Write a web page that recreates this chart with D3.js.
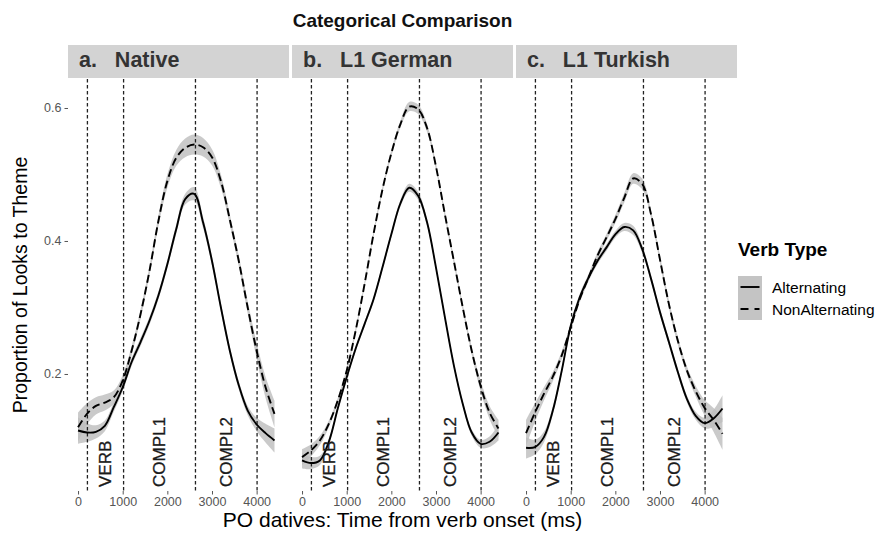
<!DOCTYPE html>
<html>
<head>
<meta charset="utf-8">
<script src="https://cdn.jsdelivr.net/npm/d3@7"></script>
<style>
  body { margin: 0; background: #fff; }
  svg { display: block; font-family: "Liberation Sans", Arial, sans-serif; }
</style>
</head>
<body>
<svg id="chart" width="882" height="534"></svg>
<script>
// time grid (ms from verb onset)
const TIME_MS = [0, 200, 400, 600, 800, 1000, 1200, 1400, 1600, 1800, 2000, 2200,
  2400, 2600, 2800, 3000, 3200, 3400, 3600, 3800, 4000, 4200, 4400];

const PANEL_LABELS = ["a.   Native", "b.   L1 German", "c.   L1 Turkish"];
const SERIES_NAMES = ["Alternating", "NonAlternating"];

// proportion of looks to theme
const nativeAlt = [0.115, 0.112, 0.113, 0.122, 0.150, 0.180, 0.218, 0.248, 0.280, 0.318, 0.365, 0.418,
  0.463, 0.471, 0.428, 0.370, 0.300, 0.235, 0.183, 0.145, 0.124, 0.111, 0.100];
const nativeNonAlt = [0.120, 0.140, 0.152, 0.157, 0.165, 0.190, 0.235, 0.290, 0.355, 0.430, 0.490, 0.525,
  0.540, 0.545, 0.541, 0.526, 0.490, 0.432, 0.370, 0.300, 0.235, 0.180, 0.140];
const germanAlt = [0.070, 0.066, 0.070, 0.098, 0.148, 0.195, 0.238, 0.275, 0.312, 0.360, 0.410, 0.456,
  0.480, 0.468, 0.428, 0.360, 0.285, 0.213, 0.155, 0.112, 0.095, 0.098, 0.112];
const germanNonAlt = [0.075, 0.085, 0.100, 0.125, 0.160, 0.205, 0.265, 0.335, 0.410, 0.477, 0.532, 0.575,
  0.602, 0.598, 0.570, 0.512, 0.440, 0.370, 0.300, 0.235, 0.182, 0.142, 0.118];
const turkishAlt = [0.089, 0.090, 0.105, 0.145, 0.205, 0.272, 0.315, 0.345, 0.370, 0.390, 0.410, 0.421,
  0.416, 0.388, 0.343, 0.293, 0.248, 0.203, 0.163, 0.137, 0.126, 0.133, 0.148];
const turkishNonAlt = [0.111, 0.142, 0.170, 0.196, 0.228, 0.270, 0.312, 0.345, 0.378, 0.405, 0.433, 0.465,
  0.494, 0.486, 0.440, 0.372, 0.305, 0.250, 0.206, 0.174, 0.149, 0.131, 0.110];

// half-widths of the grey confidence bands
const nativeAltSe = [0.020, 0.014, 0.010, 0.008, 0.007, 0.006, 0.006, 0.006, 0.006, 0.006, 0.006, 0.007,
  0.008, 0.010, 0.008, 0.007, 0.006, 0.006, 0.006, 0.007, 0.010, 0.014, 0.018];
const nativeNonAltSe = [0.022, 0.016, 0.013, 0.012, 0.010, 0.008, 0.007, 0.007, 0.007, 0.008, 0.010, 0.012,
  0.014, 0.015, 0.014, 0.012, 0.010, 0.008, 0.008, 0.009, 0.012, 0.016, 0.020];
const germanAltSe = [0.012, 0.009, 0.007, 0.005, 0.004, 0.004, 0.004, 0.004, 0.004, 0.004, 0.004, 0.005,
  0.006, 0.006, 0.005, 0.004, 0.004, 0.004, 0.004, 0.005, 0.006, 0.008, 0.012];
const germanNonAltSe = [0.012, 0.009, 0.007, 0.005, 0.004, 0.004, 0.004, 0.004, 0.004, 0.004, 0.005, 0.005,
  0.007, 0.007, 0.006, 0.005, 0.005, 0.005, 0.005, 0.006, 0.008, 0.010, 0.013];
const turkishAltSe = [0.016, 0.011, 0.008, 0.006, 0.005, 0.005, 0.005, 0.005, 0.005, 0.005, 0.005, 0.006,
  0.007, 0.006, 0.005, 0.005, 0.005, 0.005, 0.005, 0.006, 0.008, 0.013, 0.020];
const turkishNonAltSe = [0.020, 0.014, 0.010, 0.007, 0.006, 0.005, 0.005, 0.005, 0.005, 0.005, 0.006, 0.007,
  0.008, 0.008, 0.006, 0.006, 0.006, 0.006, 0.006, 0.008, 0.012, 0.018, 0.024];

// region boundaries (ms) and the labels between them
const REGION_BOUNDS = [210, 1020, 2630, 4010];
const REGION_LABELS = ["VERB", "COMPL1", "COMPL2"];

const X_TICKS = [0, 1000, 2000, 3000, 4000];
const Y_TICKS = [0.2, 0.4, 0.6];

const PANEL_DATA = [
  [nativeAlt, nativeAltSe, nativeNonAlt, nativeNonAltSe],
  [germanAlt, germanAltSe, germanNonAlt, germanNonAltSe],
  [turkishAlt, turkishAltSe, turkishNonAlt, turkishNonAltSe],
];

const svg = d3.select("#chart");

const panelLeft = 68;
const panelW = 221;
const panelGap = 3;
const stripTop = 45;
const stripH = 33;
const panelTop = 79;
const panelBottom = 491;
const plotMid = panelLeft + (3 * panelW + 2 * panelGap) / 2;

const x = d3.scaleLinear().domain([-225, 4725]).range([0, panelW]);
const y = d3.scaleLinear().domain([0.024, 0.6436]).range([panelBottom, panelTop]);

const line = d3.line()
  .x((d) => x(d.t))
  .y((d) => y(d.v))
  .curve(d3.curveCatmullRom);

const band = d3.area()
  .x((d) => x(d.t))
  .y0((d) => y(d.v - d.se))
  .y1((d) => y(d.v + d.se))
  .curve(d3.curveCatmullRom);

const toPoints = (vals, se) => TIME_MS.map((t, i) => ({ t, v: vals[i], se: se[i] }));

// title
svg.append("text")
  .attr("x", plotMid)
  .attr("y", 27)
  .attr("text-anchor", "middle")
  .attr("font-weight", "bold")
  .attr("font-size", 19)
  .attr("fill", "#111")
  .text("Categorical Comparison");

PANEL_LABELS.forEach((label, p) => {
  const ox = panelLeft + p * (panelW + panelGap);
  const g = svg.append("g").attr("transform", `translate(${ox},0)`);
  const [alt, altSe, non, nonSe] = PANEL_DATA[p];

  // strip
  g.append("rect")
    .attr("x", 0).attr("y", stripTop)
    .attr("width", panelW).attr("height", stripH)
    .attr("fill", "#d3d3d3");
  g.append("text")
    .attr("x", 11).attr("y", stripTop + 22)
    .attr("font-weight", "bold")
    .attr("font-size", 21.5)
    .attr("fill", "#333")
    .style("white-space", "pre")
    .text(label);

  // confidence bands
  g.append("path").attr("d", band(toPoints(alt, altSe)))
    .attr("fill", "#bdbdbd").attr("opacity", 0.8);
  g.append("path").attr("d", band(toPoints(non, nonSe)))
    .attr("fill", "#bdbdbd").attr("opacity", 0.8);

  // region boundaries
  g.selectAll(".bound")
    .data(REGION_BOUNDS)
    .enter()
    .append("line")
    .attr("x1", (d) => x(d)).attr("x2", (d) => x(d))
    .attr("y1", panelTop).attr("y2", panelBottom)
    .attr("stroke", "#222")
    .attr("stroke-width", 1.3)
    .attr("stroke-dasharray", "3.5,2.5");

  // fitted lines
  g.append("path").attr("d", line(toPoints(alt, altSe)))
    .attr("fill", "none").attr("stroke", "#000").attr("stroke-width", 1.9);
  g.append("path").attr("d", line(toPoints(non, nonSe)))
    .attr("fill", "none").attr("stroke", "#000").attr("stroke-width", 1.9)
    .attr("stroke-dasharray", "8,4");

  // region labels
  REGION_LABELS.forEach((txt, i) => {
    const mx = x((REGION_BOUNDS[i] + REGION_BOUNDS[i + 1]) / 2);
    g.append("text")
      .attr("transform", `translate(${mx},487) rotate(-90)`)
      .attr("dominant-baseline", "central")
      .attr("font-size", 17)
      .attr("fill", "#1a1a1a")
      .attr("stroke", "#1a1a1a")
      .attr("stroke-width", 0.3)
      .text(txt);
  });

  // x axis
  const xAxis = g.append("g")
    .attr("transform", `translate(0,${panelBottom})`)
    .call(d3.axisBottom(x).tickValues(X_TICKS).tickFormat(d3.format("d")).tickSize(3.5).tickPadding(3));
  xAxis.select(".domain").remove();
  xAxis.selectAll("line").attr("stroke", "#555");
  xAxis.selectAll("text")
    .attr("font-size", 12.5)
    .attr("fill", "#555")
    .attr("font-family", "Liberation Sans, Arial, sans-serif");

  if (p === 0) {
    const yAxis = g.append("g")
      .call(d3.axisLeft(y).tickValues(Y_TICKS).tickFormat(d3.format(".1f")).tickSize(3.5).tickPadding(3));
    yAxis.select(".domain").remove();
    yAxis.selectAll("line").attr("stroke", "#555");
    yAxis.selectAll("text")
      .attr("font-size", 12.5)
      .attr("fill", "#555")
      .attr("font-family", "Liberation Sans, Arial, sans-serif");
  }
});

// axis titles
svg.append("text")
  .attr("x", plotMid)
  .attr("y", 527)
  .attr("text-anchor", "middle")
  .attr("font-size", 21)
  .attr("fill", "#000")
  .text("PO datives: Time from verb onset (ms)");

svg.append("text")
  .attr("transform", `translate(27,${(panelTop + panelBottom) / 2}) rotate(-90)`)
  .attr("text-anchor", "middle")
  .attr("font-size", 19.5)
  .attr("fill", "#000")
  .text("Proportion of Looks to Theme");

// legend
const legend = svg.append("g").attr("transform", "translate(738,0)");
legend.append("text")
  .attr("x", 0).attr("y", 256)
  .attr("font-weight", "bold")
  .attr("font-size", 19)
  .text("Verb Type");
SERIES_NAMES.forEach((name, i) => {
  const ky = 276 + i * 22;
  legend.append("rect")
    .attr("x", 0).attr("y", ky)
    .attr("width", 24).attr("height", 22)
    .attr("fill", "#c4c4c4");
  legend.append("line")
    .attr("x1", 2.5).attr("x2", 21.5)
    .attr("y1", ky + 11).attr("y2", ky + 11)
    .attr("stroke", "#000").attr("stroke-width", 1.9)
    .attr("stroke-dasharray", i === 0 ? null : "8,6");
  legend.append("text")
    .attr("x", 34).attr("y", ky + 11)
    .attr("dominant-baseline", "central")
    .attr("font-size", 15.5)
    .text(name);
});
</script>
</body>
</html>
